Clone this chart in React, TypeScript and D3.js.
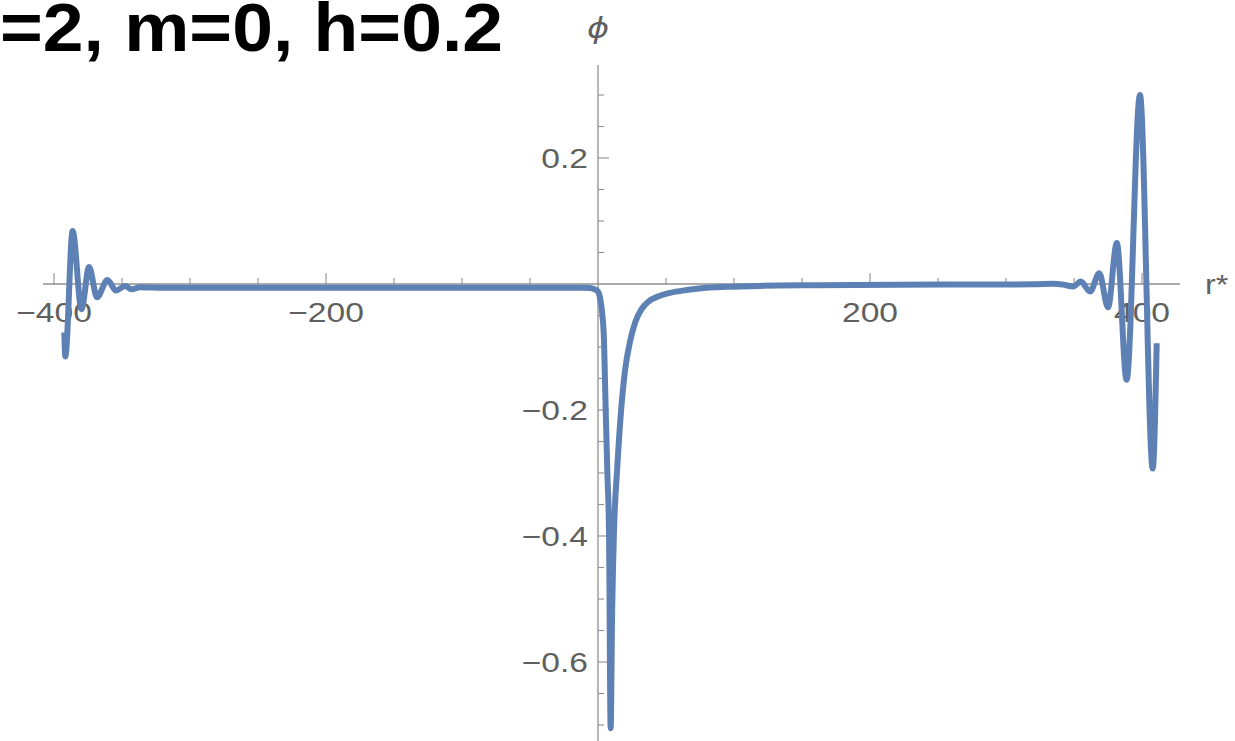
import React from 'react';
import * as d3 from 'd3';

// r* samples and field values
const rStar = [
  -392.4, -391.7, -386.3, -379.8, -374.2, -368.4, -360.7, -354.4, -347.8, -342.9,
  -336.8, -320, -250, -150, -60, -12, -6, -3, 0, 1.5,
  3, 4.4, 5.6, 6.9, 8.1, 9.3, 10.4, 11.8, 14.2, 17, 20,
  23.5, 27.5, 32, 37, 44, 53, 65.2, 80, 94.6, 119,
  160, 220, 280, 320, 335, 342, 349.5, 355, 361.8, 368.6,
  375, 381.5, 388.7, 398.5, 407.9, 410.8,
];
const phi = [
  -0.077, -0.115, 0.084, -0.04, 0.027, -0.021, 0.0065, -0.0105, -0.003, -0.0085,
  -0.005, -0.0058, -0.006, -0.006, -0.006, -0.006, -0.0065, -0.008, -0.012, -0.022,
  -0.045, -0.089, -0.195, -0.3, -0.395, -0.705, -0.52, -0.39, -0.29, -0.2, -0.135,
  -0.092, -0.06, -0.04, -0.028, -0.02, -0.014, -0.0095, -0.006, -0.0045, -0.003,
  -0.002, -0.0012, -0.0008, -0.0005, 0.0005, -0.001, -0.004, 0.004, -0.012, 0.017,
  -0.037, 0.065, -0.152, 0.3, -0.293, -0.094,
];

const xTicks = d3.range(-400, 401, 50).filter((d) => d !== 0);
const xLabels = [-400, -200, 200, 400];
const yTicks = d3.range(-14, 7).map((d) => d * 0.05).filter((d) => Math.abs(d) > 1e-9);
const yLabels = [-0.6, -0.4, -0.2, 0.2];

const title = '=2, m=0, h=0.2';

const W = 1235;
const H = 741;
const axisColor = '#8f8f8f';
const labelColor = '#5f5f5f';
const lineColor = '#5e81b5';

const fmt = (v: number) => (v < 0 ? '\u2212' : '') + d3.format('')(Math.abs(+v.toFixed(2)));

export default function App() {
  const x = d3.scaleLinear().domain([-400, 400]).range([54, 1142]);
  const y = d3.scaleLinear().domain([0.2, -0.6]).range([158, 662]);

  const pts: [number, number][] = rStar.map((r, i) => [r, phi[i]]);
  const line = d3
    .line<[number, number]>()
    .x((d) => x(d[0]))
    .y((d) => y(d[1]))
    .curve(d3.curveMonotoneX);

  const x0 = x(0);
  const y0 = y(0);
  const isMajorY = (v: number) => yLabels.some((l) => Math.abs(l - v) < 1e-6);

  return (
    <svg
      width={W}
      height={H}
      style={{ position: 'absolute', left: 0, top: 0, background: '#fff' }}
      fontFamily="'Liberation Sans', Arial, sans-serif"
    >
      <text
        x={0}
        y={51}
        fontSize={69}
        fontWeight="bold"
        fill="#000"
        textLength={503}
        lengthAdjust="spacingAndGlyphs"
      >
        {title}
      </text>

      {/* axes */}
      <line x1={43} x2={1180} y1={y0} y2={y0} stroke={axisColor} strokeWidth={1.3} />
      <line x1={x0} x2={x0} y1={65} y2={H} stroke={axisColor} strokeWidth={1.3} />

      {xTicks.map((t) => (
        <line
          key={'xt' + t}
          x1={x(t)}
          x2={x(t)}
          y1={y0}
          y2={y0 - (t % 200 === 0 ? 11 : 6)}
          stroke={axisColor}
          strokeWidth={1.1}
        />
      ))}
      {yTicks.map((t) => (
        <line
          key={'yt' + t}
          x1={x0}
          x2={x0 + (isMajorY(t) ? 11 : 6)}
          y1={y(t)}
          y2={y(t)}
          stroke={axisColor}
          strokeWidth={1.1}
        />
      ))}

      {xLabels.map((t) => (
        <text
          key={'xl' + t}
          transform={`translate(${x(t)},322) scale(1.2,1)`}
          textAnchor="middle"
          fontSize={28}
          fill={labelColor}
        >
          {fmt(t)}
        </text>
      ))}
      {yLabels.map((t) => (
        <text
          key={'yl' + t}
          transform={`translate(588,${y(t) + 10}) scale(1.2,1)`}
          textAnchor="end"
          fontSize={28}
          fill={labelColor}
        >
          {fmt(t)}
        </text>
      ))}

      <text
        transform={`translate(${x0},38) scale(1.2,1)`}
        textAnchor="middle"
        fontSize={28}
        fontStyle="italic"
        fill={labelColor}
        fontFamily="'DejaVu Sans', sans-serif"
      >
        {'\u03D5'}
      </text>
      <text transform="translate(1205,294) scale(1.2,1)" fontSize={27} fill={labelColor}>
        r*
      </text>

      <path d={line(pts) ?? ''} fill="none" stroke={lineColor} strokeWidth={6} strokeLinejoin="round" />
    </svg>
  );
}
